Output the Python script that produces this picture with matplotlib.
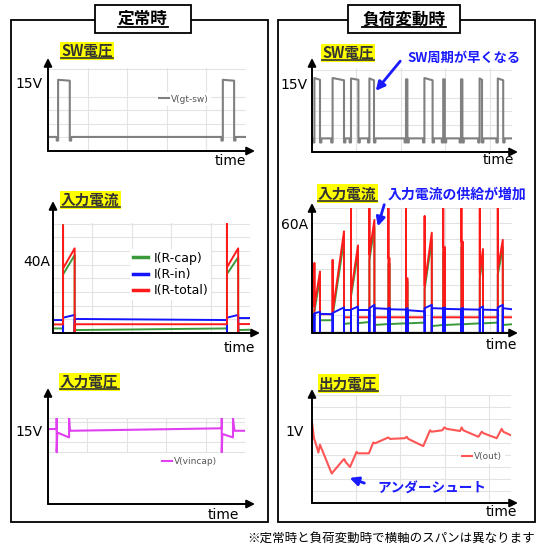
import numpy as np
import matplotlib.pyplot as plt
from matplotlib.patches import Rectangle, FancyArrowPatch
from matplotlib.lines import Line2D

# ---- data: time axis is % of each span ----
# steady state (定常時)
st_on = [5.1, 88.3]
st_off = [11.0, 94.0]
st_sw_high_start = [15.7, 15.7]
st_sw_high_end = [15.5, 15.5]
st_sw_low = 3.1
st_sw_dip = 2.3

st_red_gap_start = [4.7, 4.8, 4.9]
st_red_gap_end = [4.7, 4.8, 4.9]
st_red_spike = [59.0, 60.0]
st_red_ramp_start = [35.4, 36.0]
st_red_ramp_end = [46.4, 46.4]

st_grn_gap_start = [2.5, 1.6, 1.6]
st_grn_gap_end = [2.5, 2.5, 1.8]
st_grn_spike = [59.0, 60.0]
st_grn_ramp_start = [32.1, 32.3]
st_grn_ramp_end = [42.7, 41.5]

st_blu_gap_start = [7.1, 7.7, 8.2]
st_blu_gap_end = [7.1, 7.1, 8.2]
st_blu_spike = [0.0, 0.0]
st_blu_ramp_start = [8.4, 8.4]
st_blu_ramp_end = [9.9, 9.9]

st_vin_t = [0, 4.4, 4.4, 4.4, 4.7, 10.7, 10.7, 11.0, 11.3, 88.2, 88.2, 88.2, 88.5, 93.9, 93.9, 94.3, 94.7, 100]
st_vin_v = [15.2, 15.2, 17.4, 10.5, 14.5, 13.5, 17.4, 15.4, 14.85, 15.35, 17.4, 10.5, 14.2, 13.5, 17.4, 16.0, 14.85, 14.85]

# load change (負荷変動時)
dyn_sw_on = [1.2, 10.3, 19.5, 28.7, 47.0, 56.2, 65.6, 74.5, 83.8, 92.9]
dyn_sw_off = [4.0, 16.0, 23.2, 31.0, 47.7, 60.3, 66.4, 75.2, 85.0, 95.6]
dyn_sw_high_start = [16.3, 16.3, 16.2, 16.2, 16.0, 16.3, 16.0, 16.0, 16.2, 16.2]
dyn_sw_high_end = [15.9, 15.8, 15.9, 15.8, 16.0, 15.8, 16.0, 16.0, 15.9, 15.8]
dyn_sw_low = 3.0
dyn_sw_dip = 2.1

dyn_on = [1.2, 10.3, 19.5, 28.7, 38.2, 47.0, 56.3, 65.6, 74.7, 83.9, 92.9]
dyn_off = [4.0, 16.0, 23.0, 31.2, 38.8, 47.8, 59.9, 66.5, 75.5, 85.5, 95.4]

dyn_red_gap_start = [10.0, 10.3, 8.6, 8.6, 8.6, 8.6, 8.6, 8.6, 8.6, 8.6, 8.6, 8.6]
dyn_red_gap_end = [10.0, 10.3, 8.6, 8.6, 8.6, 8.6, 8.6, 8.6, 8.6, 8.6, 8.6, 8.6]
dyn_red_spike = [38.3, 40.0, 70, 70, 70, 70, 64, 70, 70, 70, 70]
dyn_red_ramp_start = [14.5, 11.0, 22.0, 43.0, 41.0, 30.0, 26.0, 47.0, 50.0, 33.0, 35.0]
dyn_red_ramp_end = [33.7, 55.7, 48.0, 62.0, 41.0, 30.0, 55.0, 47.0, 50.0, 46.0, 51.0]

dyn_grn_gap_start = [7.0, 7.0, 5.0, 5.4, 4.4, 4.9, 5.3, 3.8, 4.4, 4.8, 5.3, 4.4]
dyn_grn_gap_end = [7.0, 7.0, 5.4, 6.0, 4.9, 5.3, 5.7, 4.4, 4.8, 5.3, 5.7, 4.8]
dyn_grn_ramp_start = [12.0, 9.0, 20.0, 40.0, 38.0, 28.0, 24.0, 44.0, 47.0, 30.0, 32.0]
dyn_grn_ramp_end = [30.0, 51.0, 44.0, 58.0, 38.0, 28.0, 51.0, 44.0, 47.0, 42.0, 47.0]

dyn_blu_gap_start = [10.0, 10.5, 12.6, 12.6, 13.6, 13.0, 12.5, 13.6, 13.2, 13.0, 12.8, 13.6]
dyn_blu_gap_end = [10.0, 10.3, 12.6, 12.6, 13.2, 12.8, 11.8, 13.4, 13.0, 12.8, 12.6, 13.0]
dyn_blu_spike = [0.0] * 11
dyn_blu_ramp_start = [10.8, 11.0, 12.8, 13.6, 13.4, 13.2, 13.6, 13.6, 13.4, 13.6, 14.0]
dyn_blu_ramp_end = [11.6, 14.0, 14.5, 15.4, 13.8, 13.6, 15.4, 14.0, 13.8, 14.5, 15.4]

dyn_vout_t = [0, 1.0, 2.4, 3.2, 4.0, 9.9, 15.7, 16.2, 16.9, 19.1, 22.4, 23.0, 28.6, 30.8, 31.7, 37.5, 38.4, 39.2,
              46.7, 47.6, 48.4, 55.9, 59.3, 60.1, 65.5, 66.5, 67.7, 74.4, 75.2, 76.0, 83.6, 85.3, 86.1, 92.8,
              95.3, 96.1, 100]
dyn_vout_v = [1.12, 0.90, 0.78, 0.70, 0.81, 0.41, 0.60, 0.61, 0.57, 0.50, 0.71, 0.69, 0.69, 0.84, 0.83, 0.90, 0.91,
              0.89, 0.90, 0.92, 0.89, 0.79, 1.01, 0.99, 1.01, 1.05, 1.03, 1.00, 1.05, 1.01, 0.92, 0.99, 0.97, 0.90,
              1.03, 0.99, 0.94]

RED = '#ff1a1a'
BLUE = '#1414ff'
GREEN = '#3a9a3a'
GRAY = '#808080'
MAGENTA = '#e040f0'
VOUT = '#ff5555'
ANN = '#1a1aff'

W, H = 550, 555
JP = ['Noto Sans CJK JP', 'DejaVu Sans']
plt.rcParams['font.family'] = 'DejaVu Sans'

fig = plt.figure(figsize=(W / 100, H / 100), dpi=100)


def fx(x):
    return x / W


def fy(y):
    return 1 - y / H


def square_wave(on, off, hs, he, low, dip):
    t, v = [0], [low]
    for a, b, h0, h1 in zip(on, off, hs, he):
        t += [a - 0.7, a - 0.7, a, a, b, b, b + 0.7, b + 0.7]
        v += [low, dip, dip, h0, h1, dip, dip, low]
    t.append(100)
    v.append(low)
    return t, v


def pulse_wave(on, off, gap_start, gap_end, spike, ramp_start, ramp_end):
    t, v = [0], [gap_start[0]]
    for i, (a, b) in enumerate(zip(on, off)):
        t += [a, a, a, b, b, b]
        v += [gap_end[i], spike[i], ramp_start[i], ramp_end[i], 0, gap_start[i + 1]]
    t.append(100)
    v.append(gap_end[-1])
    return t, v


def panel(x0, y0, x1, y1, ytop, xtip, ytip, xgrid, ygrid, yval, ylab, pad, grid=True):
    ax = fig.add_axes([fx(x0), fy(y0), (x1 - x0) / W, (y0 - y1) / H])
    ax.set_xlim(0, 100)
    ax.set_ylim(0, ytop)
    for s in ax.spines.values():
        s.set_visible(False)
    ax.set_xticks(xgrid, minor=True)
    ax.set_yticks(ygrid, minor=True)
    ax.set_xticks([])
    ax.set_yticks([yval], labels=[ylab], fontsize=10)
    ax.tick_params(which='both', length=0)
    ax.tick_params(axis='y', pad=pad)
    ax.set_facecolor('none')
    if grid:
        ax.grid(True, which='minor', color='#e3e3e3', lw=0.8)
    arrow = dict(arrowstyle='-|>', color='black', lw=1.4, mutation_scale=12, shrinkA=0, shrinkB=0)
    ax.annotate('', xy=(0, (y0 - ytip) / (y0 - y1)), xytext=(0, 0), xycoords='axes fraction',
                arrowprops=arrow, annotation_clip=False)
    ax.annotate('', xy=((xtip - x0) / (x1 - x0), 0), xytext=(0, 0), xycoords='axes fraction',
                arrowprops=arrow, annotation_clip=False)
    return ax


def small_legend(ax, line, label, x, y):
    ax.legend([line], [label], loc='center left', bbox_to_anchor=(fx(x), fy(y)),
              bbox_transform=fig.transFigure, prop={'size': 6.5},
              handlelength=1.1, handletextpad=0.3, borderpad=0.25, frameon=True,
              fancybox=False, edgecolor='none', facecolor='white', framealpha=1,
              labelcolor='#555555')


# ---- outer frames and titles ----
for bx0, by0, bx1, by1 in [(11, 20, 268, 522), (278, 20, 535, 522)]:
    fig.add_artist(Rectangle((fx(bx0), fy(by1)), (bx1 - bx0) / W, (by1 - by0) / H,
                             transform=fig.transFigure, fill=False, ec='black', lw=1.3, zorder=1))
titles = []
for bx0, bx1, txt in [(95, 191, '定常時'), (348, 460, '負荷変動時')]:
    fig.add_artist(Rectangle((fx(bx0), fy(33)), (bx1 - bx0) / W, 28 / H, transform=fig.transFigure,
                             fc='white', ec='black', lw=1.3, zorder=5))
    titles.append(fig.text(fx((bx0 + bx1) / 2), fy(19), txt, ha='center', va='center', fontsize=12,
                           fontweight='bold', family=JP, zorder=6))

# ---- panel 1: steady SW voltage ----
ax1 = panel(48, 151, 246, 68, 18.3, 255, 58, [20, 40, 60, 80], np.arange(3, 18.4, 3), 15, '15V', 3.6)
t, v = square_wave(st_on, st_off, st_sw_high_start, st_sw_high_end, st_sw_low, st_sw_dip)
l1, = ax1.plot(t, v, color=GRAY, lw=1.5)
small_legend(ax1, l1, 'V(gt-sw)', 152, 99)

# ---- panel 2: load-change SW voltage ----
ax2 = panel(312, 152, 512, 68, 18.5, 518, 58, [22.2, 44.4, 66.6, 88.8], np.arange(3, 18.6, 3), 15, '15V', 2.9)
t, v = square_wave(dyn_sw_on, dyn_sw_off, dyn_sw_high_start, dyn_sw_high_end, dyn_sw_low, dyn_sw_dip)
ax2.plot(t, v, color=GRAY, lw=1.5)

# ---- panel 3: steady input current ----
ax3 = panel(53, 333, 250, 223, 60.3, 260, 201, [20, 40, 60, 80], np.arange(60, 0, -7.5), 40, '40A', 2.2)
ax3.plot(*pulse_wave(st_on, st_off, st_grn_gap_start, st_grn_gap_end, st_grn_spike,
                     st_grn_ramp_start, st_grn_ramp_end), color=GREEN, lw=1.4)
ax3.plot(*pulse_wave(st_on, st_off, st_blu_gap_start, st_blu_gap_end, st_blu_spike,
                     st_blu_ramp_start, st_blu_ramp_end), color=BLUE, lw=1.4)
ax3.plot(*pulse_wave(st_on, st_off, st_red_gap_start, st_red_gap_end, st_red_spike,
                     st_red_ramp_start, st_red_ramp_end), color=RED, lw=1.4)
handles = [Line2D([], [], color=c, lw=2.5) for c in (GREEN, BLUE, RED)]
ax3.legend(handles, ['I(R-cap)', 'I(R-in)', 'I(R-total)'], loc='upper left',
           bbox_to_anchor=(fx(124), fy(243)), bbox_transform=fig.transFigure, fontsize=9,
           handlelength=1.2, handletextpad=0.5, labelspacing=0.25, borderpad=0.2,
           frameon=True, fancybox=False, edgecolor='none', facecolor='white', framealpha=1)

# ---- panel 4: load-change input current ----
ax4 = panel(312, 333, 512, 208, 68.5, 518, 203, [22.2, 44.4, 66.6, 88.8], np.arange(68.5, 0, -8.4), 60, '60A', 2.9)
ax4.plot(*pulse_wave(dyn_on, dyn_off, dyn_grn_gap_start, dyn_grn_gap_end, dyn_grn_ramp_start,
                     dyn_grn_ramp_start, dyn_grn_ramp_end), color=GREEN, lw=1.4)
ax4.plot(*pulse_wave(dyn_on, dyn_off, dyn_red_gap_start, dyn_red_gap_end, dyn_red_spike,
                     dyn_red_ramp_start, dyn_red_ramp_end), color=RED, lw=1.4)
ax4.plot(*pulse_wave(dyn_on, dyn_off, dyn_blu_gap_start, dyn_blu_gap_end, dyn_blu_spike,
                     dyn_blu_ramp_start, dyn_blu_ramp_end), color=BLUE, lw=1.4)

# ---- panel 5: steady input voltage ----
ax5 = panel(48, 504, 245, 418, 17.44, 255, 388, [], [], 15, '15V', 3.6, grid=False)
ax5.vlines([20, 40, 60, 80, 100], 10.5, 17.44, color='#e3e3e3', lw=0.8, zorder=0)
ax5.hlines([10.5, 12.6, 16.6, 17.44], 0, 100, color='#e3e3e3', lw=0.8, zorder=0)
l5, = ax5.plot(st_vin_t, st_vin_v, color=MAGENTA, lw=1.5)
small_legend(ax5, l5, 'V(vincap)', 155, 462)

# ---- panel 6: load-change output voltage ----
ax6 = panel(312, 503, 511, 395, 1.5, 518, 389, [22.2, 44.4, 66.6, 88.8], np.arange(1 / 6, 1.51, 1 / 6), 1, '1V', 5.8)
l6, = ax6.plot(dyn_vout_t, dyn_vout_v, color=VOUT, lw=1.5)
small_legend(ax6, l6, 'V(out)', 455, 457)

# ---- axis names ----
for xr, yc in [(246, 161), (514, 160), (255, 348), (517, 345), (239, 515), (517, 512)]:
    fig.text(fx(xr), fy(yc), 'time', ha='right', va='center', fontsize=10)

# ---- highlighted section labels ----
labels = []
for xl, yc, txt in [(61, 51, 'SW電圧'), (322, 53, 'SW電圧'), (61, 200, '入力電流'),
                    (318, 193.5, '入力電流'), (60, 382, '入力電圧'), (319, 383.5, '出力電圧')]:
    labels.append(fig.text(fx(xl), fy(yc), txt, ha='left', va='center', fontsize=10.5, fontweight='bold',
                           family=JP, color='#333333', zorder=6,
                           bbox=dict(boxstyle='square,pad=0.1', fc='#ffff00', ec='none')))

# ---- blue call-outs ----
for xl, yc, txt, fs in [(407, 58, 'SW周期が早くなる', 9.5), (388, 195, '入力電流の供給が増加', 10),
                        (377, 489, 'アンダーシュート', 9.8)]:
    fig.text(fx(xl), fy(yc), txt, ha='left', va='center', fontsize=fs, fontweight='bold',
             family=JP, color=ANN, zorder=6)
for (ax_, ay_), (bx_, by_) in [((402, 59), (374, 93)), ((385, 202), (377, 229)), ((367, 484), (347, 477))]:
    fig.add_artist(FancyArrowPatch((fx(ax_), fy(ay_)), (fx(bx_), fy(by_)), transform=fig.transFigure,
                                   arrowstyle='-|>', mutation_scale=13, lw=2, color=ANN, zorder=6))

fig.text(fx(535), fy(538), '※定常時と負荷変動時で横軸のスパンは異なります', ha='right', va='center',
         fontsize=9, family=JP)

# underline titles and labels
fig.canvas.draw()
renderer = fig.canvas.get_renderer()
for txt, col, lw in [(t_, 'black', 1.3) for t_ in titles] + [(t_, '#333333', 1.2) for t_ in labels]:
    bb = txt.get_window_extent(renderer)
    fig.add_artist(Line2D([bb.x0 / W, bb.x1 / W], [(bb.y0 + 1) / H] * 2, transform=fig.transFigure,
                          color=col, lw=lw, zorder=7))

fig.savefig('out.png', dpi=100)
